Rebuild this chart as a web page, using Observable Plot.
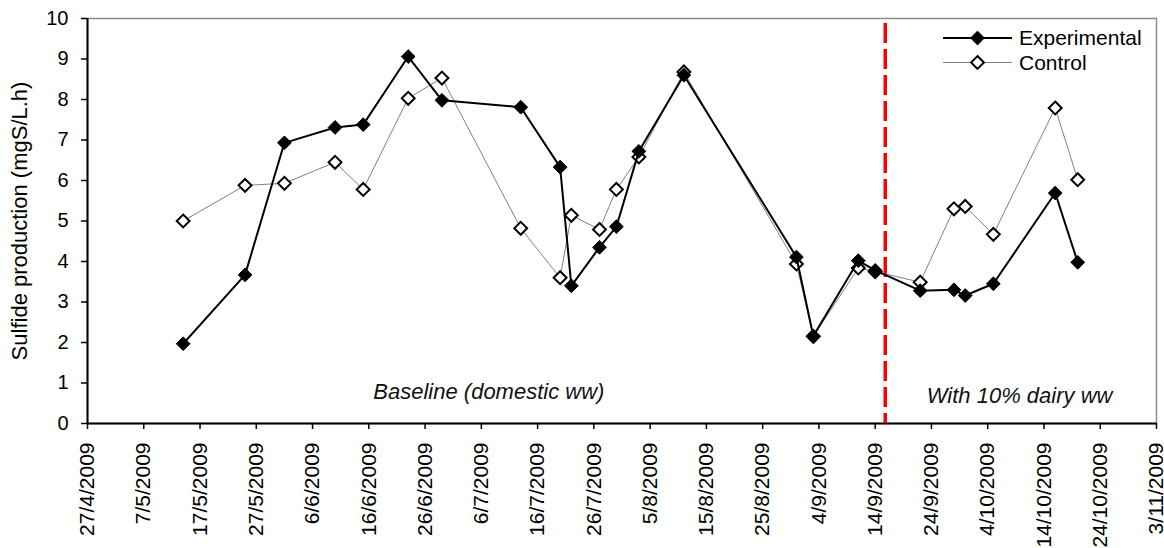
<!DOCTYPE html>
<html><head><meta charset="utf-8">
<script src="https://cdn.jsdelivr.net/npm/d3@7"></script>
<script src="https://cdn.jsdelivr.net/npm/@observablehq/plot@0.6"></script>
<style>
body{margin:0;background:#fff;}
#chart{position:relative;width:1164px;height:548px;font-family:"Liberation Sans",Arial,sans-serif;}
#legend{position:absolute;left:0;top:0;pointer-events:none;}
</style></head><body><div id="chart"></div>
<script>
// ---- data ----
const sampleDates = ["2009-05-14","2009-05-25","2009-06-01","2009-06-10","2009-06-15","2009-06-23","2009-06-29",
  "2009-07-13","2009-07-20","2009-07-22","2009-07-27","2009-07-30","2009-08-03","2009-08-11","2009-08-31",
  "2009-09-03","2009-09-11","2009-09-14","2009-09-22","2009-09-28","2009-09-30","2009-10-05","2009-10-16","2009-10-20"];
const experimental = [1.97,3.67,6.93,7.31,7.38,9.06,7.98,7.81,6.33,3.40,4.35,4.86,6.72,8.60,4.11,2.16,4.02,3.78,3.28,3.30,3.16,3.45,5.69,3.98];
const control = [5.00,5.88,5.93,6.45,5.78,8.03,8.53,4.82,3.60,5.14,4.79,5.78,6.58,8.68,3.94,2.15,3.84,3.75,3.49,5.30,5.36,4.67,7.79,6.02];
const seriesNames = ["Experimental","Control"];
const tickDates = ["2009-04-27","2009-05-07","2009-05-17","2009-05-27","2009-06-06","2009-06-16","2009-06-26",
  "2009-07-06","2009-07-16","2009-07-26","2009-08-05","2009-08-15","2009-08-25","2009-09-04","2009-09-14",
  "2009-09-24","2009-10-04","2009-10-14","2009-10-24","2009-11-03"];
const tickLabels = ["27/4/2009","7/5/2009","17/5/2009","27/5/2009","6/6/2009","16/6/2009","26/6/2009",
  "6/7/2009","16/7/2009","26/7/2009","5/8/2009","15/8/2009","25/8/2009","4/9/2009","14/9/2009",
  "24/9/2009","4/10/2009","14/10/2009","24/10/2009","3/11/2009"];
const yTicks = [0,1,2,3,4,5,6,7,8,9,10];
const changeDate = "2009-09-15T19:00:00Z";
const phaseLabels = ["Baseline (domestic ww)","With 10% dairy ww"];
const phaseLabelDates = ["2009-07-07T08:00:00Z","2009-10-09T16:00:00Z"];
const phaseLabelValues = [0.79,0.69];
const yLabel = "Sulfide production (mgS/L.h)";

// ---- build tables ----
const P = d3.isoParse;
const expRows = sampleDates.map((d,i)=>({date:P(d), value:experimental[i], series:seriesNames[0]}));
const ctlRows = sampleDates.map((d,i)=>({date:P(d), value:control[i], series:seriesNames[1]}));
const ticks = tickDates.map(P);
const labelByTime = new Map(ticks.map((t,i)=>[+t, tickLabels[i]]));
const phases = phaseLabels.map((t,i)=>({text:t, date:P(phaseLabelDates[i]), value:phaseLabelValues[i]}));

const chart = Plot.plot({
  width:1164, height:548,
  marginLeft:87, marginRight:8, marginTop:18, marginBottom:125,
  style:{fontFamily:"'Liberation Sans', Arial, sans-serif", color:"black", background:"white"},
  x:{type:"utc", domain:[ticks[0], ticks[ticks.length-1]]},
  y:{domain:[0,10]},
  marks:[
    Plot.frame({stroke:"#8c8c8c", strokeWidth:1.5}),
    Plot.ruleY([0], {stroke:"black", strokeWidth:2}),
    Plot.ruleX([ticks[0]], {stroke:"black", strokeWidth:2}),
    Plot.axisY({ticks:yTicks, tickSize:6, tickPadding:13, fontSize:20, strokeWidth:1.5,
      label:yLabel, labelAnchor:"center", labelArrow:"none", labelOffset:76}),
    Plot.axisX({ticks:ticks, tickFormat:d=>labelByTime.get(+d), tickRotate:-90, tickSize:6, tickPadding:13,
      fontSize:21, strokeWidth:1.5, label:null}),
    Plot.ruleX([P(changeDate)], {stroke:"#ff0000", strokeWidth:3.5, strokeDasharray:"20,6", strokeDashoffset:-5}),
    Plot.line(ctlRows, {x:"date", y:"value", stroke:"#808080", strokeWidth:1}),
    Plot.dot(ctlRows, {x:"date", y:"value", symbol:"diamond2", r:5.8, fill:"white", stroke:"black", strokeWidth:2}),
    Plot.line(expRows, {x:"date", y:"value", stroke:"black", strokeWidth:2}),
    Plot.dot(expRows, {x:"date", y:"value", symbol:"diamond2", r:6.2, fill:"black", stroke:"black", strokeWidth:1}),
    Plot.text(phases, {x:"date", y:"value", text:"text", fontSize:22, fontStyle:"italic", lineAnchor:"middle", fill:"#111"})
  ]
});
chart.querySelectorAll("g[aria-label='y-axis label'] text, g[aria-label='y-axis label']").forEach(el=>el.setAttribute("font-size","22"));
document.getElementById("chart").appendChild(chart);

// ---- legend overlay ----
const leg = d3.select("#chart").append("svg").attr("id","legend").attr("width",1164).attr("height",548);
const legendItems = [
  {name:seriesNames[0], line:"black", lw:2, fill:"black", sw:1, size:Math.PI*6.2*6.2},
  {name:seriesNames[1], line:"#808080", lw:1, fill:"white", sw:2, size:Math.PI*5.8*5.8}
];
legendItems.forEach((it,i)=>{
  const y = 38 + i*24.5;
  leg.append("line").attr("x1",943).attr("x2",1012).attr("y1",y).attr("y2",y).attr("stroke",it.line).attr("stroke-width",it.lw);
  leg.append("path").attr("d",d3.symbol(d3.symbolDiamond2, it.size)()).attr("transform",`translate(977.5,${y})`)
    .attr("fill",it.fill).attr("stroke","black").attr("stroke-width",it.sw);
  leg.append("text").attr("x",1019).attr("y",y).attr("dy","0.35em").attr("font-size",21)
    .attr("font-family","'Liberation Sans', Arial, sans-serif").text(it.name);
});
</script></body></html>
